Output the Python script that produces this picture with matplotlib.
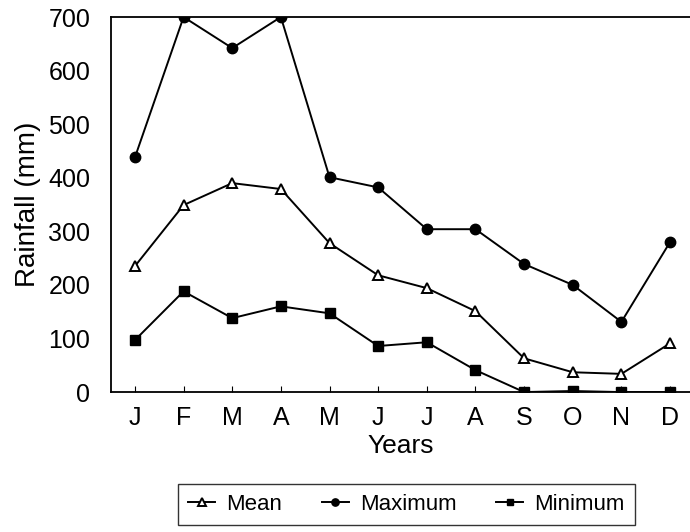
import matplotlib.pyplot as plt
import numpy as np

plt.rcParams['font.family'] = ['Liberation Sans', 'DejaVu Sans']

# Month labels along the x axis
months = ['J', 'F', 'M', 'A', 'M', 'J', 'J', 'A', 'S', 'O', 'N', 'D']

# Rainfall (mm)
mean_rain = [235, 349, 390, 379, 278, 218, 194, 151, 63, 37, 34, 91]
max_rain = [438, 700, 642, 700, 401, 382, 304, 304, 239, 200, 131, 280]
min_rain = [97, 188, 138, 160, 147, 86, 93, 41, 0, 2, 0, 0]

x = np.arange(len(months))

fig = plt.figure(figsize=(6.9, 5.32), dpi=100)
ax = fig.add_axes([0.161, 0.263, 0.839, 0.705])

ax.plot(x, mean_rain, color='black', lw=1.4, marker='^', markersize=7.5,
        markerfacecolor='white', markeredgecolor='black', markeredgewidth=1.4,
        label='Mean')
ax.plot(x, max_rain, color='black', lw=1.4, marker='o', markersize=7.5,
        label='Maximum')
ax.plot(x, min_rain, color='black', lw=1.4, marker='s', markersize=7,
        label='Minimum')

ax.set_xlim(-0.49, 11.41)
ax.set_ylim(0, 700)
ax.set_xticks(x, months)
ax.set_yticks(range(0, 701, 100))

ax.spines['right'].set_visible(False)
for s in ['left', 'top', 'bottom']:
    ax.spines[s].set_linewidth(1.3)

ax.tick_params(axis='x', direction='in', length=4, labelsize=18, pad=10)
ax.tick_params(axis='y', length=0, labelsize=18, pad=15)

ax.set_xlabel('Years', fontsize=19, labelpad=3)
ax.set_ylabel('Rainfall (mm)', fontsize=20, labelpad=5)

fig.legend(loc='center', bbox_to_anchor=(0.589, 0.052), ncol=3,
           fontsize=16, frameon=True, fancybox=False, edgecolor='black',
           handlelength=1.2, handletextpad=0.5, columnspacing=1.8,
           borderpad=0.45, markerscale=0.7)

fig.savefig('out.png', dpi=100)
